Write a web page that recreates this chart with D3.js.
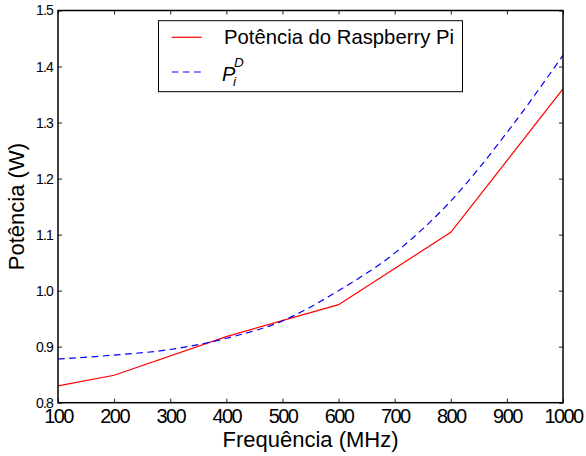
<!DOCTYPE html>
<html><head><meta charset="utf-8">
<script src="https://cdn.jsdelivr.net/npm/d3@7"></script>
<style>body{margin:0;background:#fff}text{font-family:"Liberation Sans",Arial,sans-serif}</style>
</head><body><svg id="c" width="586" height="456"></svg>
<script>
const redFreq = [100, 200, 400, 600, 800, 1000];
const redPower = [0.830, 0.849, 0.918, 0.975, 1.104, 1.360];
const blueFreq = [100, 200, 300, 400, 500, 600, 700, 800, 900, 1000];
const bluePower = [0.878, 0.885, 0.895, 0.915, 0.946, 1.000, 1.067, 1.160, 1.282, 1.420];
const xTicks = [100, 200, 300, 400, 500, 600, 700, 800, 900, 1000];
const yTicks = [0.8, 0.9, 1.0, 1.1, 1.2, 1.3, 1.4, 1.5];
const legendLabels = ["Potência do Raspberry Pi", "P"];

const svg = d3.select("#c");
const L = 58, R = 563, T = 10.5, B = 402.7;
const x = d3.scaleLinear().domain([100, 1000]).range([L, R]);
const y = d3.scaleLinear().domain([0.8, 1.5]).range([B, T]);

// lines
const line = d3.line().x(d => x(d[0])).y(d => y(d[1]));
svg.append("path").datum(redFreq.map((f, i) => [f, redPower[i]]))
  .attr("d", line).attr("fill", "none").attr("stroke", "#ff0000").attr("stroke-width", 1.2);
svg.append("path").datum(blueFreq.map((f, i) => [f, bluePower[i]]))
  .attr("d", line.curve(d3.curveMonotoneX)).attr("fill", "none").attr("stroke", "#0000ff")
  .attr("stroke-width", 1.2).attr("stroke-dasharray", "6.7,4.5");

// axes
const tickCol = "#222";
const gx = svg.append("g").attr("transform", `translate(0,${B})`)
  .call(d3.axisBottom(x).tickValues(xTicks).tickSizeInner(-4).tickSizeOuter(0).tickPadding(5.8).tickFormat(d3.format("d")));
const gxt = svg.append("g").attr("transform", `translate(0,${T})`)
  .call(d3.axisTop(x).tickValues(xTicks).tickSizeInner(-4).tickSizeOuter(0).tickFormat(""));
const gy = svg.append("g").attr("transform", `translate(${L},0)`)
  .call(d3.axisLeft(y).tickValues(yTicks).tickSizeInner(-4).tickSizeOuter(0).tickPadding(5).tickFormat(d3.format(".1f")));
const gyr = svg.append("g").attr("transform", `translate(${R},0)`)
  .call(d3.axisRight(y).tickValues(yTicks).tickSizeInner(-4).tickSizeOuter(0).tickFormat(""));
[gx, gxt, gy, gyr].forEach(g => {
  g.select(".domain").remove();
  g.selectAll(".tick line").attr("stroke", tickCol).attr("stroke-width", 1);
});
gx.selectAll("text").attr("font-size", 20).attr("fill", "#000").style("letter-spacing", "-1.6px")
  .attr("font-family", "Liberation Sans");
gy.selectAll("text").attr("font-size", 14).attr("fill", "#000").style("letter-spacing", "-0.8px")
  .attr("font-family", "Liberation Sans");

svg.append("rect").attr("x", L).attr("y", T).attr("width", R - L).attr("height", B - T)
  .attr("fill", "none").attr("stroke", "#000").attr("stroke-width", 1.5);

// axis labels
svg.append("text").attr("x", (L + R) / 2).attr("y", 447.3).attr("text-anchor", "middle")
  .attr("font-size", 22).text("Frequência (MHz)");
svg.append("text").attr("transform", `translate(23.5,${(T + B) / 2}) rotate(-90)`).attr("text-anchor", "middle")
  .attr("font-size", 22).text("Potência (W)");

// legend
const lg = svg.append("g");
lg.append("rect").attr("x", 158.5).attr("y", 20.7).attr("width", 304).attr("height", 71)
  .attr("fill", "#fff").attr("stroke", "#000").attr("stroke-width", 1);
lg.append("line").attr("x1", 171.7).attr("x2", 201.7).attr("y1", 37.3).attr("y2", 37.3)
  .attr("stroke", "#ff0000").attr("stroke-width", 1.2);
lg.append("line").attr("x1", 171.7).attr("x2", 201.7).attr("y1", 72).attr("y2", 72)
  .attr("stroke", "#0000ff").attr("stroke-width", 1.2).attr("stroke-dasharray", "6.7,4.5");
lg.append("text").attr("x", 224).attr("y", 44.3).attr("font-size", 20.3).text(legendLabels[0]);
const pt = lg.append("text").attr("x", 222).attr("y", 80.5).attr("font-size", 20).attr("font-style", "italic");
pt.append("tspan").text(legendLabels[1]);
lg.append("text").attr("x", 234).attr("y", 66.5).attr("font-size", 13.5).attr("font-style", "italic").text("D");
lg.append("text").attr("x", 233).attr("y", 86).attr("font-size", 13.5).attr("font-style", "italic").text("i");
</script></body></html>
